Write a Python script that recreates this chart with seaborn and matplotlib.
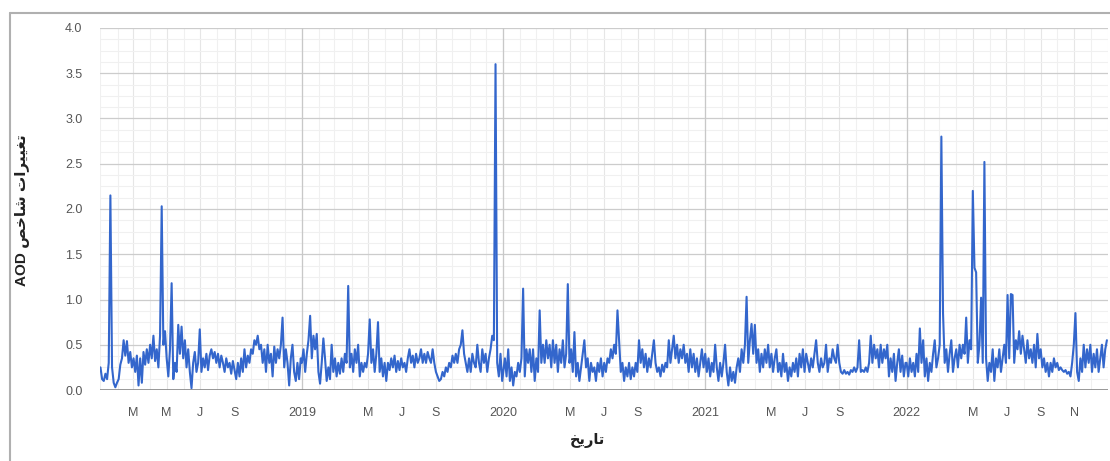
import pandas as pd
import matplotlib.pyplot as plt
import matplotlib.dates as mdates
from matplotlib.ticker import MultipleLocator
from matplotlib.lines import Line2D
import seaborn as sns

# AOD values, one every 3 days (122 per year)
aod_2018 = [0.25, 0.12, 0.1, 0.18, 0.12, 0.3, 2.15, 0.25, 0.08, 0.03, 0.08, 0.12, 0.28, 0.35, 0.55, 0.38, 0.54, 0.3, 0.42, 0.25,
            0.35, 0.2, 0.38, 0.05, 0.35, 0.08, 0.42, 0.28, 0.45, 0.3, 0.5, 0.35, 0.6, 0.32, 0.45, 0.25, 0.6, 2.03, 0.5, 0.65,
            0.35, 0.15, 0.45, 1.18, 0.12, 0.3, 0.2, 0.72, 0.4, 0.7, 0.35, 0.55, 0.25, 0.45, 0.2, 0.02, 0.3, 0.42, 0.2, 0.3,
            0.67, 0.2, 0.35, 0.25, 0.4, 0.22, 0.38, 0.45, 0.35, 0.42, 0.3, 0.4, 0.25, 0.38, 0.3, 0.2, 0.35, 0.25, 0.3, 0.18,
            0.32, 0.22, 0.12, 0.3, 0.15, 0.35, 0.2, 0.45, 0.25, 0.38, 0.3, 0.45, 0.4, 0.55, 0.5, 0.6, 0.45, 0.5, 0.3, 0.45,
            0.2, 0.5, 0.3, 0.4, 0.15, 0.48, 0.3, 0.45, 0.35, 0.5, 0.8, 0.25, 0.45, 0.3, 0.05, 0.35, 0.5, 0.2, 0.1, 0.3,
            0.12, 0.35]
aod_2019 = [0.3, 0.45, 0.2, 0.4, 0.55, 0.82, 0.35, 0.6, 0.45, 0.62, 0.2, 0.07, 0.3, 0.57, 0.35, 0.1, 0.25, 0.12, 0.5, 0.2,
            0.35, 0.15, 0.3, 0.18, 0.35, 0.2, 0.4, 0.3, 1.15, 0.25, 0.4, 0.2, 0.45, 0.3, 0.5, 0.15, 0.3, 0.2, 0.3, 0.25,
            0.4, 0.78, 0.3, 0.45, 0.2, 0.4, 0.75, 0.2, 0.35, 0.15, 0.3, 0.1, 0.3, 0.22, 0.35, 0.25, 0.38, 0.2, 0.32, 0.22,
            0.35, 0.25, 0.3, 0.2, 0.35, 0.45, 0.3, 0.38, 0.25, 0.4, 0.3, 0.35, 0.45, 0.3, 0.4, 0.3, 0.42, 0.35, 0.3, 0.45,
            0.3, 0.2, 0.15, 0.1, 0.12, 0.2, 0.15, 0.25, 0.2, 0.3, 0.25, 0.38, 0.3, 0.4, 0.3, 0.45, 0.5, 0.66, 0.4, 0.3,
            0.2, 0.35, 0.2, 0.4, 0.3, 0.25, 0.5, 0.3, 0.2, 0.45, 0.3, 0.4, 0.2, 0.35, 0.45, 0.6, 0.55, 3.6, 0.3, 0.15,
            0.4, 0.1]
aod_2020 = [0.2, 0.35, 0.15, 0.45, 0.1, 0.25, 0.05, 0.2, 0.15, 0.3, 0.2, 0.35, 1.12, 0.15, 0.45, 0.3, 0.45, 0.2, 0.45, 0.1,
            0.35, 0.2, 0.88, 0.3, 0.5, 0.3, 0.55, 0.35, 0.5, 0.25, 0.55, 0.3, 0.5, 0.2, 0.45, 0.3, 0.55, 0.25, 0.4, 1.17,
            0.3, 0.45, 0.2, 0.64, 0.15, 0.3, 0.1, 0.25, 0.4, 0.55, 0.25, 0.35, 0.1, 0.3, 0.2, 0.25, 0.1, 0.3, 0.2, 0.35,
            0.15, 0.3, 0.2, 0.35, 0.3, 0.45, 0.35, 0.5, 0.4, 0.88, 0.55, 0.2, 0.3, 0.1, 0.25, 0.15, 0.3, 0.12, 0.25, 0.15,
            0.3, 0.2, 0.55, 0.3, 0.45, 0.25, 0.4, 0.2, 0.35, 0.25, 0.4, 0.55, 0.3, 0.2, 0.25, 0.15, 0.28, 0.2, 0.3, 0.25,
            0.55, 0.3, 0.45, 0.6, 0.35, 0.5, 0.3, 0.45, 0.35, 0.5, 0.3, 0.4, 0.2, 0.45, 0.25, 0.4, 0.2, 0.35, 0.15, 0.3,
            0.45, 0.25]
aod_2021 = [0.4, 0.2, 0.35, 0.15, 0.3, 0.2, 0.5, 0.25, 0.1, 0.3, 0.15, 0.3, 0.5, 0.2, 0.05, 0.25, 0.1, 0.2, 0.08, 0.25,
            0.35, 0.2, 0.45, 0.3, 0.5, 1.03, 0.3, 0.55, 0.73, 0.4, 0.72, 0.3, 0.45, 0.2, 0.4, 0.25, 0.45, 0.3, 0.5, 0.25,
            0.4, 0.2, 0.35, 0.45, 0.2, 0.3, 0.15, 0.4, 0.2, 0.3, 0.1, 0.25, 0.15, 0.3, 0.2, 0.35, 0.15, 0.4, 0.25, 0.45,
            0.2, 0.4, 0.3, 0.2, 0.35, 0.25, 0.4, 0.55, 0.3, 0.2, 0.35, 0.25, 0.3, 0.5, 0.2, 0.35, 0.3, 0.45, 0.35, 0.3,
            0.5, 0.3, 0.2, 0.18, 0.22, 0.18, 0.2, 0.17, 0.22, 0.2, 0.25, 0.2, 0.25, 0.55, 0.2, 0.22, 0.2, 0.25, 0.2, 0.3,
            0.6, 0.3, 0.5, 0.35, 0.45, 0.25, 0.5, 0.3, 0.45, 0.35, 0.5, 0.15, 0.35, 0.2, 0.4, 0.1, 0.3, 0.45, 0.2, 0.38,
            0.15, 0.3]
aod_2022 = [0.3, 0.15, 0.35, 0.2, 0.3, 0.15, 0.4, 0.2, 0.68, 0.3, 0.55, 0.15, 0.35, 0.1, 0.3, 0.2, 0.4, 0.55, 0.25, 0.35,
            0.5, 2.8, 0.85, 0.3, 0.45, 0.2, 0.4, 0.55, 0.2, 0.35, 0.45, 0.25, 0.5, 0.35, 0.5, 0.4, 0.8, 0.3, 0.55, 0.45,
            2.2, 1.35, 1.3, 0.3, 0.5, 1.02, 0.3, 2.52, 0.35, 0.1, 0.3, 0.2, 0.45, 0.1, 0.35, 0.25, 0.45, 0.2, 0.35, 0.5,
            0.3, 1.05, 0.35, 1.06, 1.05, 0.3, 0.55, 0.45, 0.65, 0.4, 0.6, 0.45, 0.3, 0.55, 0.35, 0.45, 0.3, 0.5, 0.25, 0.62,
            0.35, 0.45, 0.25, 0.35, 0.2, 0.3, 0.15, 0.3, 0.2, 0.35, 0.25, 0.3, 0.22, 0.25, 0.22, 0.2, 0.22, 0.18, 0.2, 0.15,
            0.3, 0.5, 0.85, 0.2, 0.1, 0.35, 0.2, 0.5, 0.25, 0.45, 0.3, 0.5, 0.2, 0.4, 0.25, 0.45, 0.2, 0.35, 0.5, 0.25,
            0.45, 0.55]

years = [2018, 2019, 2020, 2021, 2022]
yearly_values = [aod_2018, aod_2019, aod_2020, aod_2021, aod_2022]

tick_dates = ['2018-03-01', '2018-05-01', '2018-07-01', '2018-09-01',
              '2019-01-01', '2019-05-01', '2019-07-01', '2019-09-01',
              '2020-01-01', '2020-05-01', '2020-07-01', '2020-09-01',
              '2021-01-01', '2021-05-01', '2021-07-01', '2021-09-01',
              '2022-01-01', '2022-05-01', '2022-07-01', '2022-09-01', '2022-11-01']
tick_labels = ['M', 'M', 'J', 'S',
               '2019', 'M', 'J', 'S',
               '2020', 'M', 'J', 'S',
               '2021', 'M', 'J', 'S',
               '2022', 'M', 'J', 'S', 'N']

# Persian labels written in visual order with presentation forms (no shaping in matplotlib)
y_label = 'AOD \uFEBA\uFEA7\uFE8E\uFEB7 \uFE95\uFE8D\uFEAE\uFBFF\uFBFF\uFED0\uFE97'   # تغییرات شاخص AOD
x_label = '\uFEA6\uFBFE\uFEAD\uFE8E\uFE97'                                           # تاریخ

frames = []
for yr, vals in zip(years, yearly_values):
    d = pd.date_range(f'{yr}-01-01', periods=len(vals), freq='3D')
    frames.append(pd.DataFrame({'date': d, 'aod': vals}))
df = pd.concat(frames, ignore_index=True)

sns.set_style('white')
plt.rcParams['font.family'] = ['Liberation Sans', 'DejaVu Sans']

fig = plt.figure(figsize=(11.1, 4.61), dpi=100)
ax = fig.add_axes([0.0905, 0.154, 0.9077, 0.7853])

sns.lineplot(data=df, x='date', y='aod', ax=ax, color='#3366CC', linewidth=1.5, zorder=3)

ax.set_xlim(pd.Timestamp('2018-01-01'), pd.Timestamp('2023-01-01'))

# grid
ax.yaxis.set_major_locator(MultipleLocator(0.5))
ax.yaxis.set_minor_locator(MultipleLocator(0.125))
ax.set_ylim(0, 4.0)
ax.set_yticks([i * 0.5 for i in range(9)])
ax.set_yticklabels([f'{i * 0.5:.1f}' for i in range(9)])
ax.xaxis.set_minor_locator(mdates.MonthLocator())
ax.set_xticks(pd.to_datetime(tick_dates))
ax.set_xticklabels(tick_labels)

ax.grid(which='major', axis='y', color='#cccccc', linewidth=0.9)
ax.grid(which='minor', axis='y', color='#f0f0f0', linewidth=0.8)
ax.grid(which='minor', axis='x', color='#f0f0f0', linewidth=0.8)
ax.grid(which='major', axis='x', color='#e6e6e6', linewidth=0.8)
for yr in years[1:]:
    ax.axvline(pd.Timestamp(f'{yr}-01-01'), color='#c8c8c8', linewidth=0.9, zorder=1)
ax.axhline(0, color='#888888', linewidth=1.2, zorder=2)

ax.tick_params(axis='both', which='both', length=0, labelsize=9, colors='#555555')
ax.tick_params(axis='y', pad=13)
ax.tick_params(axis='x', pad=12)
for s in ax.spines.values():
    s.set_visible(False)
ax.set_xlabel('')
ax.set_ylabel('')

fig.text(22 / 1110, 1 - 210 / 461, y_label, rotation=90, ha='center', va='center',
         fontsize=11, fontweight='bold', color='#222222', family=['Liberation Sans', 'DejaVu Sans'])
fig.text(588 / 1110, 1 - 440 / 461, x_label, ha='center', va='center',
         fontsize=10.5, fontweight='bold', color='#222222', family=['DejaVu Sans'])

# outer frame of the chart panel
fig.add_artist(Line2D([10 / 1110, 10 / 1110], [0, 1 - 13 / 461], transform=fig.transFigure, color='#b0b0b0', linewidth=1.5))
fig.add_artist(Line2D([10 / 1110, 1], [1 - 13 / 461, 1 - 13 / 461], transform=fig.transFigure, color='#b0b0b0', linewidth=1.5))

plt.savefig('out.png', dpi=100)
